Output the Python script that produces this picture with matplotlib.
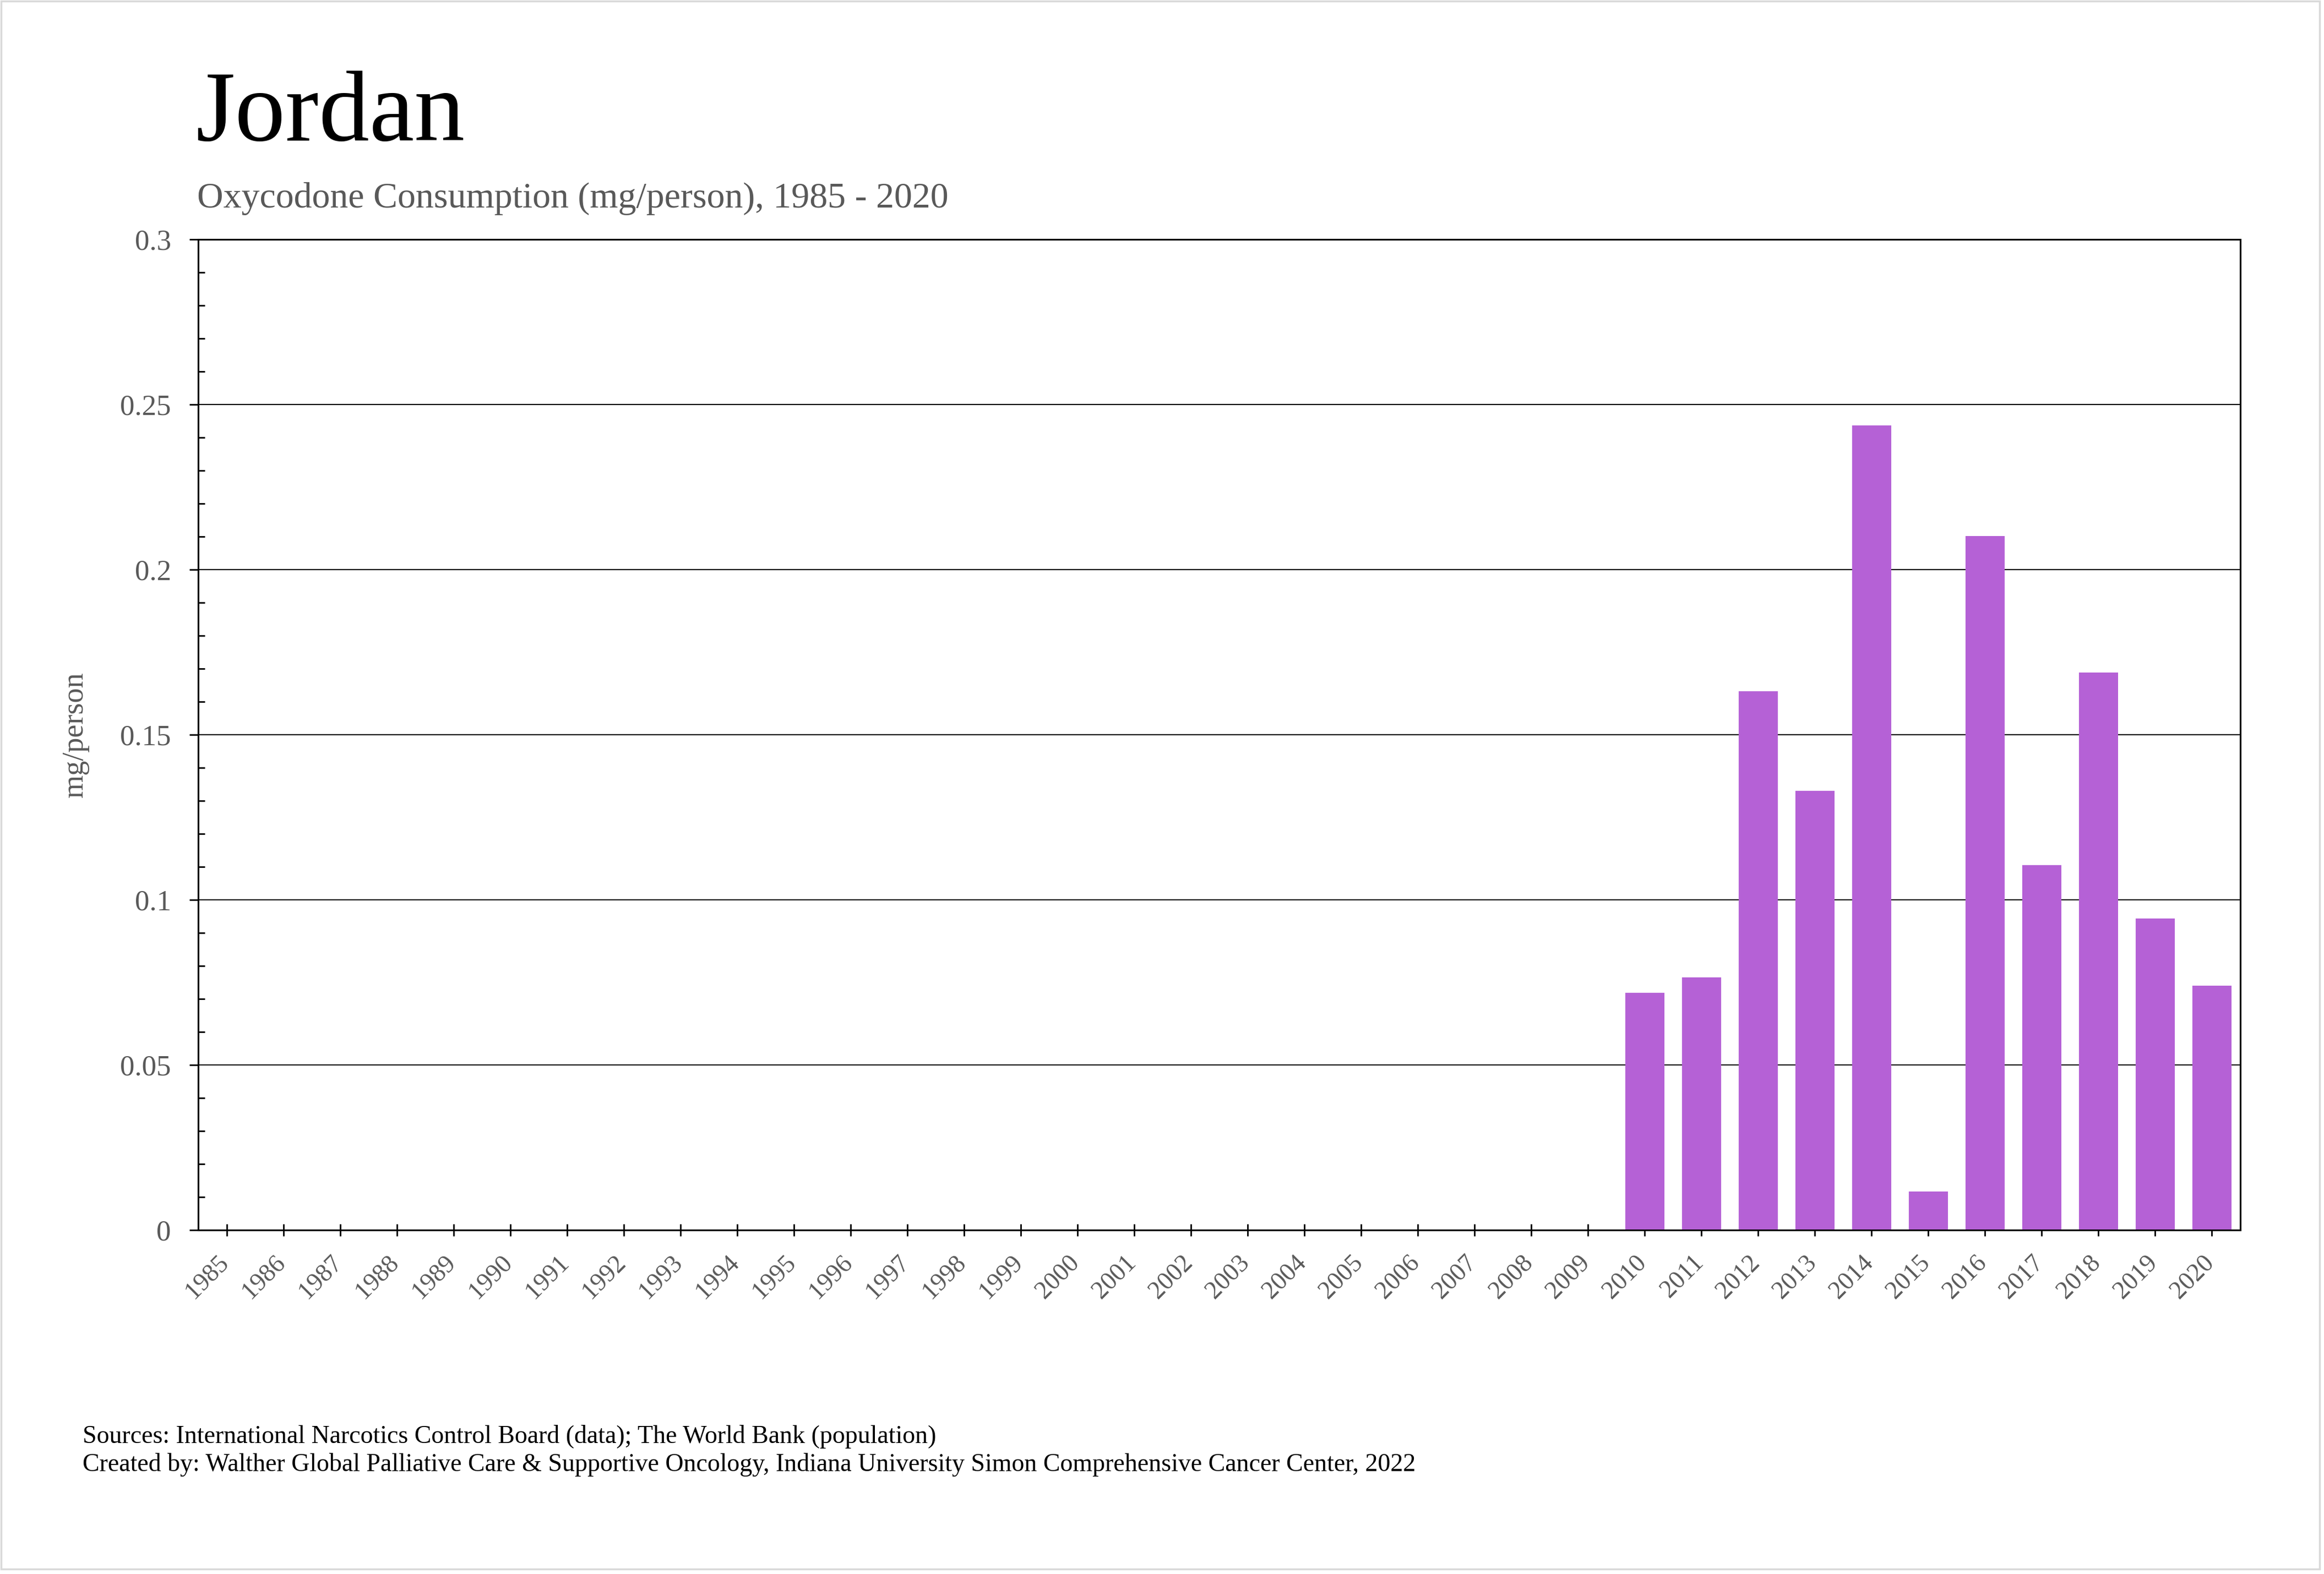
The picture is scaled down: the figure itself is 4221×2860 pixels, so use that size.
import numpy as np
import matplotlib
matplotlib.use("Agg")
import matplotlib.pyplot as plt
from matplotlib.ticker import MultipleLocator
from matplotlib.patches import Rectangle
from matplotlib.transforms import ScaledTranslation

# ---------------- data ----------------
years = ['1985', '1986', '1987', '1988', '1989', '1990', '1991', '1992', '1993',
         '1994', '1995', '1996', '1997', '1998', '1999', '2000', '2001', '2002',
         '2003', '2004', '2005', '2006', '2007', '2008', '2009', '2010', '2011',
         '2012', '2013', '2014', '2015', '2016', '2017', '2018', '2019', '2020']
consumption = [None, None, None, None, None, None, None, None, None,
               None, None, None, None, None, None, None, None, None,
               None, None, None, None, None, None, None, 0.0718, 0.0765,
               0.1631, 0.1330, 0.2437, 0.0116, 0.2102, 0.1105, 0.1689, 0.0944, 0.0740]
ytick_values = [0, 0.05, 0.1, 0.15, 0.2, 0.25, 0.3]
ytick_labels = ['0', '0.05', '0.1', '0.15', '0.2', '0.25', '0.3']

title = "Jordan"
subtitle = "Oxycodone Consumption (mg/person), 1985 - 2020"
ylabel = "mg/person"
footer1 = "Sources: International Narcotics Control Board (data); The World Bank (population)"
footer2 = ("Created by: Walther Global Palliative Care & Supportive Oncology, "
           "Indiana University Simon Comprehensive Cancer Center, 2022")

# ---------------- style ----------------
plt.rcParams['font.family'] = ['Liberation Serif', 'DejaVu Serif']
GRAY = '#595959'
BAR = '#b561d6'

W, H = 4221, 2860
DPI = 100
fig = plt.figure(figsize=(W / DPI, H / DPI), dpi=DPI)
fig.patch.set_facecolor('white')

ax = fig.add_axes([360 / W, 1 - 2235 / H, (4069 - 360) / W, (2235 - 435) / H])

x = np.arange(len(years))
vals = np.array([np.nan if v is None else v for v in consumption], dtype=float)
ax.bar(x, vals, width=0.69, color=BAR, zorder=2)

ax.set_xlim(-0.5, len(years) - 0.5)
ax.set_ylim(0, 0.3)
ax.set_xticks(x)
ax.set_xticklabels(years, rotation=45, ha='right', fontsize=33, color=GRAY)
ax.set_yticks(ytick_values)
ax.set_yticklabels(ytick_labels, fontsize=38, color=GRAY)
ax.yaxis.set_minor_locator(MultipleLocator(0.01))

ax.grid(axis='y', which='major', color='black', linewidth=1.5)
ax.set_axisbelow(True)
for s in ax.spines.values():
    s.set_linewidth(2.2)
    s.set_color('black')
    s.set_zorder(3)

ax.tick_params(axis='x', which='major', direction='inout', length=16.5, width=2, pad=19)
ax.tick_params(axis='x', which='minor', bottom=False)
ax.tick_params(axis='y', which='major', direction='out', length=11.5, width=2, pad=24)
ax.tick_params(axis='y', which='minor', direction='in', length=8.5, width=2)

offset = ScaledTranslation(12 / DPI, 0, fig.dpi_scale_trans)
for lab in ax.get_xticklabels():
    lab.set_transform(lab.get_transform() + offset)

# ---------------- texts ----------------
fig.text(355 / W, 1 - 255 / H, title, fontsize=132, color='black', ha='left', va='baseline')
fig.text(358 / W, 1 - 377 / H, subtitle, fontsize=47.4, color=GRAY, ha='left', va='baseline')
fig.text(137 / W, 1 - 1335 / H, ylabel, fontsize=39, color=GRAY, rotation=90,
         ha='center', va='center')
fig.text(150 / W, 1 - 2622 / H, footer1, fontsize=33, color='black', ha='left', va='baseline')
fig.text(150 / W, 1 - 2673 / H, footer2, fontsize=33, color='black', ha='left', va='baseline')

# light border around figure
fig.patches.append(Rectangle((2 / W, 1 - 2851 / H), (4213 - 2) / W, (2851 - 2) / H,
                             transform=fig.transFigure, fill=False,
                             edgecolor='#d9d9d9', linewidth=2.5))

fig.savefig('out.png', dpi=DPI)
